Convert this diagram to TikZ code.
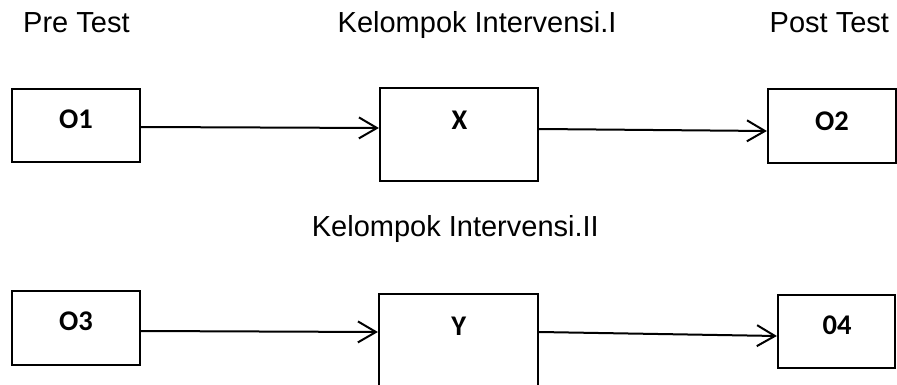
\documentclass[tikz,border=0pt]{standalone}
\usepackage{fontspec}
\setmainfont{Liberation Sans}
\newfontfamily\boxfont{Carlito}
\usetikzlibrary{arrows.meta}
\begin{document}
\begin{tikzpicture}[x=1pt,y=-1pt,
  boxnode/.style={draw=black,line width=2.2pt,inner sep=0pt},
  boxlabel/.style={inner sep=0pt,font=\boxfont\fontsize{28.5}{31}\selectfont\bfseries},
  headlabel/.style={inner sep=0pt,anchor=base west,font=\fontsize{29}{32}\selectfont},
  conn/.style={line width=2pt,-{Straight Barb[length=18pt,width=21pt,line width=2pt]}}]
\useasboundingbox (0,0) rectangle (897,385);
\clip (0,0) rectangle (897,385);
% headings
\node[headlabel] (pre) at (23,33) {Pre Test};
\node[headlabel] (k1) at (337.5,33) {Kelompok Intervensi.I};
\node[headlabel] (post) at (769.5,33) {Post Test};
\node[headlabel] (k2) at (311.7,236) {Kelompok Intervensi.II};
% boxes row 1
\node[boxnode,minimum width=128pt,minimum height=73pt] (o1) at (76,125.5) {};
\node[boxnode,minimum width=158pt,minimum height=93pt] (x) at (459,134.5) {};
\node[boxnode,minimum width=128pt,minimum height=74pt] (o2) at (832,126) {};
% boxes row 2
\node[boxnode,minimum width=128pt,minimum height=74pt] (o3) at (76,328) {};
\node[boxnode,minimum width=159pt,minimum height=100pt] (y) at (458.5,344) {};
\node[boxnode,minimum width=117pt,minimum height=73pt] (o4) at (836.5,331.5) {};
% box labels
\node[boxlabel] (o1t) at (76,119.5) {O1};
\node[boxlabel] (xt) at (459.5,120.5) {X};
\node[boxlabel] (o2t) at (832,121.3) {O2};
\node[boxlabel] (o3t) at (76,321.7) {O3};
\node[boxlabel] (yt) at (458.7,325.8) {Y};
\node[boxlabel] (o4t) at (837,325) {04};
% connectors
\draw[conn] ([yshift=-1.5pt]o1.east) -- ([yshift=6.5pt]x.west);
\draw[conn] ([yshift=5.5pt]x.east) -- ([yshift=-5pt]o2.west);
\draw[conn] ([yshift=-3pt]o3.east) -- ([yshift=12pt]y.west);
\draw[conn] ([yshift=12pt]y.east) -- ([yshift=-4.5pt]o4.west);
\end{tikzpicture}
\end{document}
